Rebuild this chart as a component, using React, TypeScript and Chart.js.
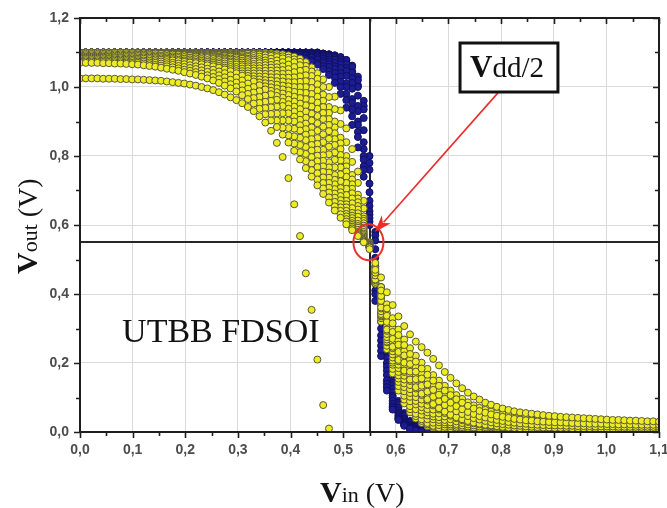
import React, { useEffect, useRef } from "react";
import { Chart, registerables } from "chart.js";
Chart.register(...registerables);

// Input voltage grid (V)
const vin = [
  0, 0.011, 0.022, 0.033, 0.044, 0.055, 0.066, 0.077, 0.088, 0.099,
  0.11, 0.121, 0.132, 0.143, 0.154, 0.165, 0.176, 0.187, 0.198, 0.209,
  0.22, 0.231, 0.242, 0.253, 0.264, 0.275, 0.286, 0.297, 0.308, 0.319,
  0.33, 0.341, 0.352, 0.363, 0.374, 0.385, 0.396, 0.407, 0.418, 0.429,
  0.44, 0.451, 0.462, 0.473, 0.484, 0.495, 0.506, 0.517, 0.528, 0.539,
  0.55, 0.561, 0.572, 0.583, 0.594, 0.605, 0.616, 0.627, 0.638, 0.649,
  0.66, 0.671, 0.682, 0.693, 0.704, 0.715, 0.726, 0.737, 0.748, 0.759,
  0.77, 0.781, 0.792, 0.803, 0.814, 0.825, 0.836, 0.847, 0.858, 0.869,
  0.88, 0.891, 0.902, 0.913, 0.924, 0.935, 0.946, 0.957, 0.968, 0.979,
  0.99, 1.001, 1.012, 1.023, 1.034, 1.045, 1.056, 1.067, 1.078, 1.089,
  1.1,
];

// ---- Yellow curves (Vout, V) ----
const yellowS = [
  1.025, 1.025, 1.025, 1.025, 1.024, 1.024, 1.024, 1.023, 1.023, 1.022,
  1.022, 1.021, 1.02, 1.019, 1.018, 1.016, 1.014, 1.012, 1.01, 1.007,
  1.004, 1.0, 0.996, 0.991, 0.985, 0.978, 0.97, 0.962, 0.953, 0.942,
  0.93, 0.915, 0.897, 0.873, 0.838, 0.797, 0.736, 0.66, 0.568, 0.46,
  0.354, 0.21, 0.078, 0.01,
];
const yellow1 = [
  1.07, 1.07, 1.07, 1.07, 1.069, 1.069, 1.068, 1.068, 1.067, 1.066,
  1.065, 1.063, 1.061, 1.059, 1.056, 1.053, 1.05, 1.047, 1.043, 1.039,
  1.035, 1.03, 1.025, 1.019, 1.012, 1.004, 0.996, 0.987, 0.976, 0.965,
  0.952, 0.937, 0.921, 0.903, 0.884, 0.862, 0.839, 0.815, 0.79, 0.765,
  0.74, 0.715, 0.69, 0.665, 0.642, 0.621, 0.602, 0.585, 0.568, 0.55,
  0.53, 0.49, 0.448, 0.405, 0.368, 0.335, 0.307, 0.283, 0.262, 0.246,
  0.23, 0.212, 0.193, 0.174, 0.157, 0.141, 0.127, 0.114, 0.103, 0.094,
  0.085, 0.079, 0.073, 0.068, 0.064, 0.06, 0.057, 0.055, 0.053, 0.051,
  0.049, 0.047, 0.046, 0.044, 0.043, 0.042, 0.041, 0.04, 0.039, 0.038,
  0.037, 0.036, 0.035, 0.035, 0.034, 0.033, 0.033, 0.032, 0.031, 0.031,
  0.03,
];
const yellow1b = [
  1.074, 1.074, 1.074, 1.074, 1.073, 1.073, 1.072, 1.072, 1.071, 1.07,
  1.07, 1.068, 1.066, 1.064, 1.062, 1.06, 1.057, 1.054, 1.05, 1.047,
  1.043, 1.039, 1.034, 1.029, 1.023, 1.016, 1.008, 1.0, 0.99, 0.98,
  0.968, 0.954, 0.939, 0.922, 0.903, 0.882, 0.86, 0.836, 0.811, 0.785,
  0.759, 0.732, 0.706, 0.68, 0.654, 0.631, 0.61, 0.59, 0.571, 0.552,
  0.535, 0.47, 0.41, 0.358, 0.315, 0.281, 0.252, 0.226, 0.204, 0.184,
  0.166, 0.149, 0.134, 0.12, 0.107, 0.095, 0.085, 0.076, 0.068, 0.061,
  0.056, 0.051, 0.047, 0.044, 0.041, 0.038, 0.036, 0.034, 0.033, 0.031,
  0.03, 0.029, 0.028, 0.028, 0.027, 0.026, 0.025, 0.025, 0.024, 0.024,
  0.024, 0.023, 0.023, 0.022, 0.022, 0.022, 0.021, 0.021, 0.021, 0.021,
  0.021,
];
const yellow2 = [
  1.078, 1.078, 1.078, 1.078, 1.077, 1.077, 1.076, 1.076, 1.075, 1.075,
  1.074, 1.073, 1.071, 1.07, 1.068, 1.066, 1.064, 1.061, 1.058, 1.055,
  1.052, 1.048, 1.044, 1.04, 1.034, 1.028, 1.021, 1.013, 1.005, 0.995,
  0.984, 0.971, 0.957, 0.941, 0.923, 0.903, 0.881, 0.857, 0.832, 0.806,
  0.778, 0.75, 0.722, 0.694, 0.667, 0.641, 0.617, 0.595, 0.574, 0.555,
  0.535, 0.475, 0.42, 0.37, 0.33, 0.297, 0.268, 0.243, 0.221, 0.201,
  0.183, 0.165, 0.149, 0.134, 0.12, 0.107, 0.096, 0.086, 0.077, 0.07,
  0.064, 0.059, 0.055, 0.051, 0.048, 0.045, 0.043, 0.041, 0.039, 0.037,
  0.036, 0.035, 0.034, 0.033, 0.032, 0.031, 0.03, 0.03, 0.029, 0.028,
  0.028, 0.027, 0.027, 0.026, 0.026, 0.025, 0.025, 0.025, 0.024, 0.024,
  0.024,
];
const yellow2b = [
  1.082, 1.082, 1.082, 1.082, 1.081, 1.081, 1.08, 1.08, 1.079, 1.079,
  1.078, 1.077, 1.076, 1.075, 1.074, 1.072, 1.07, 1.068, 1.066, 1.063,
  1.06, 1.057, 1.053, 1.05, 1.045, 1.04, 1.034, 1.027, 1.019, 1.01,
  1.0, 0.988, 0.975, 0.96, 0.943, 0.924, 0.903, 0.879, 0.853, 0.826,
  0.797, 0.768, 0.738, 0.708, 0.679, 0.651, 0.625, 0.6, 0.577, 0.557,
  0.537, 0.462, 0.394, 0.337, 0.29, 0.253, 0.222, 0.197, 0.175, 0.155,
  0.138, 0.122, 0.108, 0.096, 0.085, 0.075, 0.066, 0.058, 0.052, 0.046,
  0.042, 0.038, 0.035, 0.032, 0.029, 0.027, 0.025, 0.024, 0.022, 0.021,
  0.02, 0.02, 0.019, 0.019, 0.018, 0.018, 0.017, 0.017, 0.017, 0.016,
  0.016, 0.016, 0.016, 0.015, 0.015, 0.015, 0.015, 0.015, 0.015, 0.015,
  0.015,
];
const yellow3 = [
  1.085, 1.085, 1.085, 1.085, 1.085, 1.084, 1.084, 1.084, 1.083, 1.083,
  1.082, 1.082, 1.081, 1.08, 1.079, 1.078, 1.077, 1.075, 1.073, 1.071,
  1.069, 1.066, 1.063, 1.06, 1.056, 1.051, 1.046, 1.04, 1.033, 1.025,
  1.016, 1.005, 0.993, 0.979, 0.963, 0.945, 0.924, 0.9, 0.874, 0.846,
  0.816, 0.785, 0.754, 0.722, 0.691, 0.661, 0.632, 0.605, 0.58, 0.56,
  0.535, 0.465, 0.4, 0.345, 0.3, 0.265, 0.235, 0.21, 0.188, 0.168,
  0.15, 0.134, 0.119, 0.106, 0.094, 0.083, 0.074, 0.066, 0.059, 0.053,
  0.048, 0.044, 0.04, 0.037, 0.034, 0.032, 0.03, 0.028, 0.027, 0.026,
  0.025, 0.024, 0.023, 0.023, 0.022, 0.022, 0.021, 0.021, 0.02, 0.02,
  0.02, 0.019, 0.019, 0.019, 0.019, 0.018, 0.018, 0.018, 0.018, 0.018,
  0.018,
];
const yellow3b = [
  1.088, 1.088, 1.088, 1.088, 1.088, 1.088, 1.087, 1.087, 1.087, 1.087,
  1.086, 1.086, 1.085, 1.084, 1.083, 1.082, 1.081, 1.079, 1.077, 1.075,
  1.073, 1.071, 1.068, 1.065, 1.061, 1.056, 1.052, 1.046, 1.039, 1.032,
  1.023, 1.013, 1.002, 0.989, 0.974, 0.957, 0.937, 0.914, 0.889, 0.862,
  0.832, 0.801, 0.77, 0.737, 0.704, 0.672, 0.641, 0.612, 0.586, 0.563,
  0.54, 0.454, 0.38, 0.319, 0.27, 0.232, 0.201, 0.175, 0.153, 0.134,
  0.117, 0.102, 0.089, 0.078, 0.068, 0.06, 0.052, 0.046, 0.04, 0.036,
  0.032, 0.028, 0.025, 0.023, 0.021, 0.019, 0.018, 0.016, 0.015, 0.014,
  0.013, 0.013, 0.012, 0.012, 0.012, 0.011, 0.011, 0.011, 0.011, 0.011,
  0.01, 0.01, 0.01, 0.01, 0.01, 0.01, 0.01, 0.01, 0.01, 0.01,
  0.01,
];
const yellow4 = [
  1.092, 1.092, 1.092, 1.092, 1.092, 1.092, 1.091, 1.091, 1.091, 1.091,
  1.09, 1.09, 1.089, 1.088, 1.087, 1.086, 1.085, 1.084, 1.082, 1.08,
  1.078, 1.076, 1.073, 1.07, 1.067, 1.062, 1.058, 1.052, 1.046, 1.039,
  1.031, 1.022, 1.011, 0.999, 0.985, 0.969, 0.95, 0.929, 0.905, 0.878,
  0.849, 0.818, 0.786, 0.752, 0.718, 0.684, 0.651, 0.62, 0.592, 0.567,
  0.54, 0.458, 0.388, 0.328, 0.279, 0.24, 0.21, 0.184, 0.162, 0.142,
  0.125, 0.11, 0.097, 0.085, 0.075, 0.066, 0.058, 0.051, 0.045, 0.04,
  0.036, 0.032, 0.029, 0.026, 0.024, 0.022, 0.02, 0.019, 0.018, 0.017,
  0.016, 0.015, 0.015, 0.014, 0.014, 0.014, 0.013, 0.013, 0.013, 0.013,
  0.012, 0.012, 0.012, 0.012, 0.012, 0.012, 0.012, 0.012, 0.012, 0.012,
  0.012,
];
const yellow4b = [
  1.096, 1.096, 1.096, 1.096, 1.096, 1.096, 1.095, 1.095, 1.095, 1.095,
  1.094, 1.094, 1.093, 1.092, 1.091, 1.09, 1.089, 1.088, 1.087, 1.085,
  1.083, 1.081, 1.078, 1.075, 1.072, 1.068, 1.064, 1.058, 1.053, 1.046,
  1.039, 1.03, 1.02, 1.009, 0.996, 0.981, 0.963, 0.943, 0.92, 0.894,
  0.866, 0.835, 0.802, 0.767, 0.731, 0.695, 0.66, 0.627, 0.597, 0.571,
  0.54, 0.442, 0.361, 0.297, 0.247, 0.209, 0.178, 0.152, 0.13, 0.111,
  0.095, 0.081, 0.069, 0.059, 0.05, 0.043, 0.037, 0.032, 0.027, 0.024,
  0.021, 0.019, 0.017, 0.015, 0.013, 0.012, 0.011, 0.01, 0.01, 0.009,
  0.009, 0.008, 0.008, 0.008, 0.008, 0.007, 0.007, 0.007, 0.007, 0.007,
  0.007, 0.007, 0.007, 0.007, 0.007, 0.007, 0.007, 0.007, 0.007, 0.007,
  0.007,
];
const yellow5 = [
  1.1, 1.1, 1.1, 1.1, 1.1, 1.1, 1.099, 1.099, 1.099, 1.099,
  1.098, 1.098, 1.097, 1.097, 1.096, 1.095, 1.094, 1.093, 1.092, 1.09,
  1.088, 1.086, 1.084, 1.081, 1.078, 1.074, 1.07, 1.065, 1.06, 1.054,
  1.047, 1.039, 1.03, 1.019, 1.007, 0.993, 0.977, 0.958, 0.936, 0.911,
  0.883, 0.852, 0.818, 0.782, 0.745, 0.707, 0.67, 0.635, 0.603, 0.575,
  0.54, 0.45, 0.372, 0.31, 0.262, 0.224, 0.193, 0.167, 0.145, 0.126,
  0.109, 0.095, 0.082, 0.071, 0.062, 0.054, 0.047, 0.041, 0.036, 0.032,
  0.028, 0.025, 0.022, 0.02, 0.018, 0.016, 0.015, 0.014, 0.013, 0.012,
  0.011, 0.011, 0.01, 0.01, 0.01, 0.009, 0.009, 0.009, 0.009, 0.009,
  0.008, 0.008, 0.008, 0.008, 0.008, 0.008, 0.008, 0.008, 0.008, 0.008,
  0.008,
];
const yellow5b = [
  1.1, 1.1, 1.1, 1.1, 1.1, 1.1, 1.1, 1.099, 1.099, 1.099,
  1.099, 1.098, 1.098, 1.097, 1.097, 1.096, 1.095, 1.094, 1.093, 1.092,
  1.09, 1.089, 1.087, 1.084, 1.081, 1.078, 1.074, 1.07, 1.065, 1.06,
  1.054, 1.046, 1.038, 1.028, 1.017, 1.004, 0.99, 0.972, 0.952, 0.929,
  0.903, 0.873, 0.84, 0.805, 0.767, 0.727, 0.687, 0.649, 0.613, 0.58,
  0.54, 0.445, 0.365, 0.301, 0.252, 0.214, 0.183, 0.157, 0.135, 0.116,
  0.1, 0.086, 0.073, 0.063, 0.054, 0.047, 0.04, 0.035, 0.03, 0.027,
  0.024, 0.021, 0.019, 0.017, 0.015, 0.014, 0.013, 0.012, 0.011, 0.01,
  0.01, 0.009, 0.009, 0.009, 0.008, 0.008, 0.008, 0.008, 0.007, 0.007,
  0.007, 0.007, 0.007, 0.007, 0.007, 0.007, 0.007, 0.007, 0.007, 0.007,
  0.007,
];
const yellow6 = [
  1.1, 1.1, 1.1, 1.1, 1.1, 1.1, 1.1, 1.1, 1.099, 1.099,
  1.099, 1.099, 1.098, 1.098, 1.097, 1.097, 1.096, 1.096, 1.095, 1.094,
  1.093, 1.091, 1.09, 1.088, 1.085, 1.082, 1.079, 1.075, 1.071, 1.066,
  1.061, 1.054, 1.047, 1.038, 1.028, 1.016, 1.002, 0.986, 0.968, 0.947,
  0.923, 0.895, 0.863, 0.827, 0.789, 0.747, 0.705, 0.663, 0.624, 0.586,
  0.54, 0.44, 0.358, 0.293, 0.243, 0.205, 0.174, 0.148, 0.126, 0.107,
  0.091, 0.077, 0.065, 0.055, 0.047, 0.04, 0.034, 0.029, 0.025, 0.022,
  0.019, 0.017, 0.015, 0.013, 0.012, 0.011, 0.01, 0.009, 0.009, 0.008,
  0.008, 0.008, 0.007, 0.007, 0.007, 0.007, 0.007, 0.006, 0.006, 0.006,
  0.006, 0.006, 0.006, 0.006, 0.006, 0.006, 0.006, 0.006, 0.006, 0.006,
  0.006,
];
const yellow6b = [
  1.1, 1.1, 1.1, 1.1, 1.1, 1.1, 1.1, 1.1, 1.1, 1.099,
  1.099, 1.099, 1.099, 1.098, 1.098, 1.098, 1.097, 1.097, 1.096, 1.096,
  1.095, 1.094, 1.092, 1.091, 1.088, 1.086, 1.083, 1.08, 1.076, 1.072,
  1.067, 1.061, 1.055, 1.047, 1.038, 1.027, 1.014, 1.0, 0.984, 0.965,
  0.943, 0.916, 0.885, 0.85, 0.81, 0.767, 0.722, 0.677, 0.634, 0.592,
  0.54, 0.435, 0.35, 0.284, 0.234, 0.195, 0.163, 0.136, 0.113, 0.094,
  0.078, 0.065, 0.054, 0.045, 0.037, 0.031, 0.026, 0.022, 0.019, 0.016,
  0.014, 0.013, 0.011, 0.01, 0.009, 0.008, 0.008, 0.007, 0.007, 0.006,
  0.005, 0.005, 0.005, 0.005, 0.005, 0.005, 0.005, 0.005, 0.005, 0.005,
  0.005, 0.005, 0.005, 0.005, 0.005, 0.005, 0.005, 0.005, 0.005, 0.005,
  0.005,
];
const yellow7 = [
  1.1, 1.1, 1.1, 1.1, 1.1, 1.1, 1.1, 1.1, 1.1, 1.1,
  1.1, 1.1, 1.099, 1.099, 1.099, 1.099, 1.098, 1.098, 1.098, 1.097,
  1.097, 1.096, 1.095, 1.094, 1.092, 1.09, 1.088, 1.085, 1.082, 1.078,
  1.074, 1.069, 1.063, 1.056, 1.048, 1.038, 1.027, 1.014, 1.0, 0.983,
  0.962, 0.937, 0.907, 0.872, 0.832, 0.787, 0.74, 0.692, 0.645, 0.598,
  0.54, 0.43, 0.342, 0.275, 0.225, 0.185, 0.152, 0.124, 0.101, 0.082,
  0.066, 0.053, 0.043, 0.035, 0.028, 0.023, 0.019, 0.016, 0.013, 0.011,
  0.01, 0.009, 0.008, 0.007, 0.006, 0.006, 0.005, 0.005, 0.005, 0.005,
  0.004, 0.004, 0.004, 0.004, 0.004, 0.004, 0.004, 0.004, 0.004, 0.004,
  0.004, 0.004, 0.004, 0.004, 0.004, 0.004, 0.004, 0.004, 0.004, 0.004,
  0.004,
];
const yellow7b = [
  1.1, 1.1, 1.1, 1.1, 1.1, 1.1, 1.1, 1.1, 1.1, 1.1,
  1.1, 1.1, 1.1, 1.1, 1.099, 1.099, 1.099, 1.098, 1.098, 1.098,
  1.098, 1.097, 1.096, 1.095, 1.094, 1.092, 1.09, 1.088, 1.085, 1.082,
  1.079, 1.075, 1.07, 1.064, 1.057, 1.049, 1.039, 1.028, 1.015, 1.0,
  0.98, 0.955, 0.925, 0.89, 0.849, 0.803, 0.755, 0.705, 0.655, 0.605,
  0.542, 0.432, 0.338, 0.268, 0.216, 0.174, 0.141, 0.113, 0.09, 0.072,
  0.057, 0.045, 0.035, 0.028, 0.022, 0.018, 0.014, 0.012, 0.01, 0.008,
  0.007, 0.006, 0.005, 0.005, 0.004, 0.004, 0.004, 0.003, 0.003, 0.003,
  0.003, 0.003, 0.003, 0.003, 0.003, 0.003, 0.003, 0.003, 0.003, 0.003,
  0.003, 0.003, 0.003, 0.003, 0.003, 0.003, 0.003, 0.003, 0.003, 0.003,
  0.003,
];
const yellow8 = [
  1.1, 1.1, 1.1, 1.1, 1.1, 1.1, 1.1, 1.1, 1.1, 1.1,
  1.1, 1.1, 1.1, 1.1, 1.1, 1.1, 1.099, 1.099, 1.099, 1.099,
  1.099, 1.098, 1.097, 1.096, 1.095, 1.094, 1.093, 1.091, 1.089, 1.087,
  1.084, 1.081, 1.077, 1.073, 1.067, 1.06, 1.052, 1.043, 1.031, 1.017,
  0.997, 0.972, 0.942, 0.907, 0.866, 0.82, 0.77, 0.718, 0.666, 0.612,
  0.543, 0.435, 0.335, 0.262, 0.207, 0.164, 0.13, 0.102, 0.08, 0.062,
  0.048, 0.037, 0.028, 0.022, 0.017, 0.013, 0.01, 0.008, 0.006, 0.005,
  0.004, 0.004, 0.003, 0.003, 0.003, 0.002, 0.002, 0.002, 0.002, 0.002,
  0.002, 0.002, 0.002, 0.002, 0.002, 0.002, 0.002, 0.002, 0.002, 0.002,
  0.002, 0.002, 0.002, 0.002, 0.002, 0.002, 0.002, 0.002, 0.002, 0.002,
  0.002,
];
const yellow8b = [
  1.1, 1.1, 1.1, 1.1, 1.1, 1.1, 1.1, 1.1, 1.1, 1.1,
  1.1, 1.1, 1.1, 1.1, 1.1, 1.1, 1.1, 1.1, 1.099, 1.099,
  1.099, 1.099, 1.098, 1.097, 1.097, 1.096, 1.095, 1.094, 1.093, 1.091,
  1.09, 1.088, 1.085, 1.082, 1.077, 1.072, 1.065, 1.058, 1.047, 1.034,
  1.015, 0.99, 0.96, 0.925, 0.883, 0.837, 0.785, 0.732, 0.677, 0.618,
  0.544, 0.438, 0.338, 0.261, 0.201, 0.155, 0.118, 0.089, 0.066, 0.05,
  0.037, 0.027, 0.02, 0.015, 0.011, 0.008, 0.006, 0.004, 0.003, 0.002,
  0.002, 0.002, 0.001, 0.001, 0.001, 0.001, 0.001, 0.001, 0.001, 0.001,
  0.001, 0.001, 0.001, 0.001, 0.001, 0.001, 0.001, 0.001, 0.001, 0.001,
  0.001, 0.001, 0.001, 0.001, 0.001, 0.001, 0.001, 0.001, 0.001, 0.001,
  0.001,
];
const yellow9 = [
  1.1, 1.1, 1.1, 1.1, 1.1, 1.1, 1.1, 1.1, 1.1, 1.1,
  1.1, 1.1, 1.1, 1.1, 1.1, 1.1, 1.1, 1.1, 1.1, 1.1,
  1.1, 1.1, 1.099, 1.099, 1.099, 1.098, 1.098, 1.097, 1.096, 1.096,
  1.095, 1.094, 1.092, 1.09, 1.087, 1.083, 1.078, 1.072, 1.063, 1.05,
  1.032, 1.008, 0.978, 0.942, 0.9, 0.853, 0.8, 0.745, 0.688, 0.625,
  0.545, 0.44, 0.34, 0.26, 0.195, 0.145, 0.105, 0.075, 0.053, 0.037,
  0.026, 0.018, 0.012, 0.008, 0.005, 0.003, 0.002, 0.001, 0, 0,
  0, 0, 0, 0, 0, 0, 0, 0, 0, 0,
  0, 0, 0, 0, 0, 0, 0, 0, 0, 0,
  0, 0, 0, 0, 0, 0, 0, 0, 0, 0,
  0,
];
const yellow9b = [
  1.1, 1.1, 1.1, 1.1, 1.1, 1.1, 1.1, 1.1, 1.1, 1.1,
  1.1, 1.1, 1.1, 1.1, 1.1, 1.1, 1.1, 1.1, 1.1, 1.1,
  1.1, 1.1, 1.099, 1.099, 1.099, 1.099, 1.099, 1.098, 1.098, 1.098,
  1.097, 1.096, 1.095, 1.094, 1.092, 1.089, 1.085, 1.08, 1.073, 1.061,
  1.045, 1.024, 1.0, 0.971, 0.936, 0.893, 0.84, 0.783, 0.722, 0.648,
  0.548, 0.435, 0.33, 0.25, 0.183, 0.133, 0.094, 0.066, 0.046, 0.032,
  0.022, 0.015, 0.01, 0.006, 0.004, 0.002, 0.001, 0.001, 0, 0,
  0, 0, 0, 0, 0, 0, 0, 0, 0, 0,
  0, 0, 0, 0, 0, 0, 0, 0, 0, 0,
  0, 0, 0, 0, 0, 0, 0, 0, 0, 0,
  0,
];
const yellow10 = [
  1.1, 1.1, 1.1, 1.1, 1.1, 1.1, 1.1, 1.1, 1.1, 1.1,
  1.1, 1.1, 1.1, 1.1, 1.1, 1.1, 1.1, 1.1, 1.1, 1.1,
  1.1, 1.1, 1.1, 1.1, 1.1, 1.1, 1.1, 1.1, 1.1, 1.1,
  1.1, 1.099, 1.099, 1.098, 1.097, 1.095, 1.092, 1.088, 1.082, 1.072,
  1.057, 1.04, 1.022, 1.0, 0.972, 0.932, 0.88, 0.82, 0.755, 0.67,
  0.55, 0.43, 0.32, 0.24, 0.17, 0.12, 0.083, 0.057, 0.039, 0.026,
  0.017, 0.011, 0.007, 0.004, 0.002, 0.001, 0, 0, 0, 0,
  0, 0, 0, 0, 0, 0, 0, 0, 0, 0,
  0, 0, 0, 0, 0, 0, 0, 0, 0, 0,
  0, 0, 0, 0, 0, 0, 0, 0, 0, 0,
  0,
];

// ---- Blue curves (Vout, V) ----
const blue1 = [
  1.1, 1.1, 1.1, 1.1, 1.1, 1.1, 1.1, 1.1, 1.1, 1.1,
  1.1, 1.1, 1.1, 1.1, 1.1, 1.1, 1.1, 1.1, 1.1, 1.1,
  1.1, 1.1, 1.1, 1.1, 1.1, 1.1, 1.1, 1.1, 1.1, 1.1,
  1.1, 1.1, 1.099, 1.098, 1.097, 1.095, 1.093, 1.09, 1.086, 1.081,
  1.074, 1.065, 1.052, 1.035, 1.012, 0.98, 0.94, 0.89, 0.825, 0.74,
  0.6, 0.38, 0.22, 0.12, 0.065, 0.035, 0.018, 0.009, 0.004, 0.002,
  0.001, 0, 0, 0, 0, 0, 0, 0, 0, 0,
  0, 0, 0, 0, 0, 0, 0, 0, 0, 0,
  0, 0, 0, 0, 0, 0, 0, 0, 0, 0,
  0, 0, 0, 0, 0, 0, 0, 0, 0, 0,
  0,
];
const blue2 = [
  1.1, 1.1, 1.1, 1.1, 1.1, 1.1, 1.1, 1.1, 1.1, 1.1,
  1.1, 1.1, 1.1, 1.1, 1.1, 1.1, 1.1, 1.1, 1.1, 1.1,
  1.1, 1.1, 1.1, 1.1, 1.1, 1.1, 1.1, 1.1, 1.1, 1.1,
  1.1, 1.1, 1.1, 1.099, 1.098, 1.096, 1.094, 1.092, 1.088, 1.084,
  1.078, 1.07, 1.06, 1.046, 1.028, 1.0, 0.962, 0.915, 0.855, 0.76,
  0.61, 0.4, 0.235, 0.13, 0.07, 0.038, 0.02, 0.01, 0.005, 0.002,
  0.001, 0, 0, 0, 0, 0, 0, 0, 0, 0,
  0, 0, 0, 0, 0, 0, 0, 0, 0, 0,
  0, 0, 0, 0, 0, 0, 0, 0, 0, 0,
  0, 0, 0, 0, 0, 0, 0, 0, 0, 0,
  0,
];
const blue3 = [
  1.1, 1.1, 1.1, 1.1, 1.1, 1.1, 1.1, 1.1, 1.1, 1.1,
  1.1, 1.1, 1.1, 1.1, 1.1, 1.1, 1.1, 1.1, 1.1, 1.1,
  1.1, 1.1, 1.1, 1.1, 1.1, 1.1, 1.1, 1.1, 1.1, 1.1,
  1.1, 1.1, 1.1, 1.1, 1.099, 1.098, 1.097, 1.095, 1.093, 1.09,
  1.085, 1.079, 1.07, 1.058, 1.04, 1.015, 0.98, 0.935, 0.87, 0.77,
  0.62, 0.41, 0.25, 0.14, 0.075, 0.04, 0.021, 0.011, 0.005, 0.002,
  0.001, 0, 0, 0, 0, 0, 0, 0, 0, 0,
  0, 0, 0, 0, 0, 0, 0, 0, 0, 0,
  0, 0, 0, 0, 0, 0, 0, 0, 0, 0,
  0, 0, 0, 0, 0, 0, 0, 0, 0, 0,
  0,
];
const blue4 = [
  1.1, 1.1, 1.1, 1.1, 1.1, 1.1, 1.1, 1.1, 1.1, 1.1,
  1.1, 1.1, 1.1, 1.1, 1.1, 1.1, 1.1, 1.1, 1.1, 1.1,
  1.1, 1.1, 1.1, 1.1, 1.1, 1.1, 1.1, 1.1, 1.1, 1.1,
  1.1, 1.1, 1.1, 1.1, 1.1, 1.099, 1.098, 1.097, 1.095, 1.092,
  1.088, 1.083, 1.076, 1.066, 1.052, 1.03, 1.0, 0.955, 0.89, 0.79,
  0.63, 0.43, 0.265, 0.15, 0.082, 0.044, 0.023, 0.012, 0.006, 0.003,
  0.001, 0, 0, 0, 0, 0, 0, 0, 0, 0,
  0, 0, 0, 0, 0, 0, 0, 0, 0, 0,
  0, 0, 0, 0, 0, 0, 0, 0, 0, 0,
  0, 0, 0, 0, 0, 0, 0, 0, 0, 0,
  0,
];
const blue5 = [
  1.1, 1.1, 1.1, 1.1, 1.1, 1.1, 1.1, 1.1, 1.1, 1.1,
  1.1, 1.1, 1.1, 1.1, 1.1, 1.1, 1.1, 1.1, 1.1, 1.1,
  1.1, 1.1, 1.1, 1.1, 1.1, 1.1, 1.1, 1.1, 1.1, 1.1,
  1.1, 1.1, 1.1, 1.1, 1.1, 1.1, 1.099, 1.098, 1.097, 1.095,
  1.092, 1.088, 1.082, 1.073, 1.06, 1.04, 1.01, 0.965, 0.9, 0.8,
  0.64, 0.44, 0.28, 0.165, 0.09, 0.048, 0.025, 0.013, 0.006, 0.003,
  0.001, 0, 0, 0, 0, 0, 0, 0, 0, 0,
  0, 0, 0, 0, 0, 0, 0, 0, 0, 0,
  0, 0, 0, 0, 0, 0, 0, 0, 0, 0,
  0, 0, 0, 0, 0, 0, 0, 0, 0, 0,
  0,
];
const blue6 = [
  1.1, 1.1, 1.1, 1.1, 1.1, 1.1, 1.1, 1.1, 1.1, 1.1,
  1.1, 1.1, 1.1, 1.1, 1.1, 1.1, 1.1, 1.1, 1.1, 1.1,
  1.1, 1.1, 1.1, 1.1, 1.1, 1.1, 1.1, 1.1, 1.1, 1.1,
  1.1, 1.1, 1.1, 1.1, 1.1, 1.1, 1.1, 1.099, 1.098, 1.097,
  1.095, 1.092, 1.087, 1.08, 1.07, 1.055, 1.032, 0.995, 0.93, 0.82,
  0.655, 0.46, 0.3, 0.178, 0.1, 0.053, 0.028, 0.015, 0.007, 0.003,
  0.002, 0.001, 0, 0, 0, 0, 0, 0, 0, 0,
  0, 0, 0, 0, 0, 0, 0, 0, 0, 0,
  0, 0, 0, 0, 0, 0, 0, 0, 0, 0,
  0, 0, 0, 0, 0, 0, 0, 0, 0, 0,
  0,
];
const blue7 = [
  1.1, 1.1, 1.1, 1.1, 1.1, 1.1, 1.1, 1.1, 1.1, 1.1,
  1.1, 1.1, 1.1, 1.1, 1.1, 1.1, 1.1, 1.1, 1.1, 1.1,
  1.1, 1.1, 1.1, 1.1, 1.1, 1.1, 1.1, 1.1, 1.1, 1.1,
  1.1, 1.1, 1.1, 1.1, 1.1, 1.1, 1.1, 1.1, 1.099, 1.098,
  1.097, 1.095, 1.092, 1.087, 1.079, 1.066, 1.047, 1.012, 0.945, 0.84,
  0.67, 0.48, 0.32, 0.19, 0.105, 0.057, 0.03, 0.016, 0.008, 0.004,
  0.002, 0.001, 0, 0, 0, 0, 0, 0, 0, 0,
  0, 0, 0, 0, 0, 0, 0, 0, 0, 0,
  0, 0, 0, 0, 0, 0, 0, 0, 0, 0,
  0, 0, 0, 0, 0, 0, 0, 0, 0, 0,
  0,
];
const blue7b = [
  1.1, 1.1, 1.1, 1.1, 1.1, 1.1, 1.1, 1.1, 1.1, 1.1,
  1.1, 1.1, 1.1, 1.1, 1.1, 1.1, 1.1, 1.1, 1.1, 1.1,
  1.1, 1.1, 1.1, 1.1, 1.1, 1.1, 1.1, 1.1, 1.1, 1.1,
  1.1, 1.1, 1.1, 1.1, 1.1, 1.1, 1.1, 1.1, 1.1, 1.099,
  1.098, 1.097, 1.094, 1.09, 1.084, 1.073, 1.055, 1.025, 0.975, 0.875,
  0.695, 0.505, 0.345, 0.2, 0.115, 0.063, 0.034, 0.018, 0.009, 0.005,
  0.002, 0.001, 0, 0, 0, 0, 0, 0, 0, 0,
  0, 0, 0, 0, 0, 0, 0, 0, 0, 0,
  0, 0, 0, 0, 0, 0, 0, 0, 0, 0,
  0, 0, 0, 0, 0, 0, 0, 0, 0, 0,
  0,
];
const blue8 = [
  1.1, 1.1, 1.1, 1.1, 1.1, 1.1, 1.1, 1.1, 1.1, 1.1,
  1.1, 1.1, 1.1, 1.1, 1.1, 1.1, 1.1, 1.1, 1.1, 1.1,
  1.1, 1.1, 1.1, 1.1, 1.1, 1.1, 1.1, 1.1, 1.1, 1.1,
  1.1, 1.1, 1.1, 1.1, 1.1, 1.1, 1.1, 1.1, 1.1, 1.1,
  1.099, 1.098, 1.096, 1.093, 1.088, 1.08, 1.066, 1.042, 1.0, 0.91,
  0.72, 0.53, 0.37, 0.215, 0.125, 0.07, 0.038, 0.02, 0.011, 0.006,
  0.003, 0.001, 0, 0, 0, 0, 0, 0, 0, 0,
  0, 0, 0, 0, 0, 0, 0, 0, 0, 0,
  0, 0, 0, 0, 0, 0, 0, 0, 0, 0,
  0, 0, 0, 0, 0, 0, 0, 0, 0, 0,
  0,
];
const blue9 = [
  1.1, 1.1, 1.1, 1.1, 1.1, 1.1, 1.1, 1.1, 1.1, 1.1,
  1.1, 1.1, 1.1, 1.1, 1.1, 1.1, 1.1, 1.1, 1.1, 1.1,
  1.1, 1.1, 1.1, 1.1, 1.1, 1.1, 1.1, 1.1, 1.1, 1.1,
  1.1, 1.1, 1.1, 1.1, 1.1, 1.1, 1.1, 1.1, 1.1, 1.1,
  1.1, 1.099, 1.097, 1.095, 1.092, 1.087, 1.078, 1.058, 1.02, 0.935,
  0.76, 0.555, 0.395, 0.23, 0.135, 0.08, 0.046, 0.026, 0.015, 0.008,
  0.004, 0.002, 0.001, 0, 0, 0, 0, 0, 0, 0,
  0, 0, 0, 0, 0, 0, 0, 0, 0, 0,
  0, 0, 0, 0, 0, 0, 0, 0, 0, 0,
  0, 0, 0, 0, 0, 0, 0, 0, 0, 0,
  0,
];
const blue9b = [
  1.1, 1.1, 1.1, 1.1, 1.1, 1.1, 1.1, 1.1, 1.1, 1.1,
  1.1, 1.1, 1.1, 1.1, 1.1, 1.1, 1.1, 1.1, 1.1, 1.1,
  1.1, 1.1, 1.1, 1.1, 1.1, 1.1, 1.1, 1.1, 1.1, 1.1,
  1.1, 1.1, 1.1, 1.1, 1.1, 1.1, 1.1, 1.1, 1.1, 1.1,
  1.1, 1.1, 1.096, 1.094, 1.09, 1.083, 1.07, 1.045, 1.005, 0.945,
  0.78, 0.57, 0.41, 0.235, 0.142, 0.085, 0.05, 0.029, 0.017, 0.01,
  0.005, 0.002, 0.001, 0, 0, 0, 0, 0, 0, 0,
  0, 0, 0, 0, 0, 0, 0, 0, 0, 0,
  0, 0, 0, 0, 0, 0, 0, 0, 0, 0,
  0, 0, 0, 0, 0, 0, 0, 0, 0, 0,
  0,
];
const blue10 = [
  1.1, 1.1, 1.1, 1.1, 1.1, 1.1, 1.1, 1.1, 1.1, 1.1,
  1.1, 1.1, 1.1, 1.1, 1.1, 1.1, 1.1, 1.1, 1.1, 1.1,
  1.1, 1.1, 1.1, 1.1, 1.1, 1.1, 1.1, 1.1, 1.1, 1.1,
  1.1, 1.1, 1.1, 1.1, 1.1, 1.1, 1.1, 1.1, 1.1, 1.1,
  1.1, 1.1, 1.097, 1.094, 1.091, 1.086, 1.078, 1.062, 1.03, 0.96,
  0.8, 0.58, 0.42, 0.24, 0.15, 0.09, 0.055, 0.032, 0.02, 0.011,
  0.006, 0.003, 0.001, 0, 0, 0, 0, 0, 0, 0,
  0, 0, 0, 0, 0, 0, 0, 0, 0, 0,
  0, 0, 0, 0, 0, 0, 0, 0, 0, 0,
  0, 0, 0, 0, 0, 0, 0, 0, 0, 0,
  0,
];

const yellowCurves = [
  yellowS, yellow1, yellow1b, yellow2, yellow2b, yellow3, yellow3b, yellow4, yellow4b,
  yellow5, yellow5b, yellow6, yellow6b, yellow7, yellow7b, yellow8, yellow8b,
  yellow9, yellow9b, yellow10,
];
const blueCurves = [blue1, blue2, blue3, blue4, blue5, blue6, blue7, blue7b, blue8, blue9, blue9b, blue10];

const xTickValues = [0, 0.1, 0.2, 0.3, 0.4, 0.5, 0.6, 0.7, 0.8, 0.9, 1.0, 1.1];
const yTickValues = [0, 0.2, 0.4, 0.6, 0.8, 1.0, 1.2];
const xMinorValues = [0.05, 0.15, 0.25, 0.35, 0.45, 0.55, 0.65, 0.75, 0.85, 0.95, 1.05];
const yMinorValues = [0.1, 0.3, 0.5, 0.7, 0.9, 1.1];

const crossVin = 0.55;
const crossVout = 0.55;

const SERIF = '"Liberation Serif", "Times New Roman", serif';
const SANS = '"Liberation Sans", Arial, sans-serif';

function fmt(v: number) {
  return v.toFixed(1).replace(".", ",");
}

type Part = { text: string; font: string };
function drawRich(ctx: CanvasRenderingContext2D, parts: Part[], x: number, y: number) {
  let cx = x;
  for (const p of parts) {
    ctx.font = p.font;
    ctx.fillText(p.text, cx, y);
    cx += ctx.measureText(p.text).width;
  }
}

const decorPlugin = {
  id: "decor",
  beforeDatasetsDraw(chart: any) {
    const { ctx, chartArea: a, scales } = chart;
    const xs = scales.x, ys = scales.y;
    ctx.save();
    ctx.strokeStyle = "#262626";
    ctx.lineWidth = 2;
    const vx = Math.round(xs.getPixelForValue(crossVin));
    const hy = Math.round(ys.getPixelForValue(crossVout));
    ctx.beginPath();
    ctx.moveTo(vx, a.top);
    ctx.lineTo(vx, a.bottom);
    ctx.moveTo(a.left, hy);
    ctx.lineTo(a.right, hy);
    ctx.stroke();
    ctx.restore();
  },
  afterDatasetsDraw(chart: any) {
    const { ctx, chartArea: a, scales } = chart;
    const xs = scales.x, ys = scales.y;
    ctx.save();
    // frame
    ctx.strokeStyle = "#1e1e1e";
    ctx.lineWidth = 2;
    ctx.strokeRect(a.left, a.top, a.right - a.left, a.bottom - a.top);
    // ticks
    ctx.lineWidth = 1.6;
    ctx.beginPath();
    const tick = (vals: number[], len: number) => {
      for (const v of vals) {
        const px = Math.round(xs.getPixelForValue(v)) + 0.5;
        ctx.moveTo(px, a.bottom);
        ctx.lineTo(px, a.bottom + len);
        ctx.moveTo(px, a.top);
        ctx.lineTo(px, a.top + len);
      }
    };
    const ticky = (vals: number[], len: number) => {
      for (const v of vals) {
        const py = Math.round(ys.getPixelForValue(v)) + 0.5;
        ctx.moveTo(a.left, py);
        ctx.lineTo(a.left - len, py);
        ctx.moveTo(a.right, py);
        ctx.lineTo(a.right - len, py);
      }
    };
    tick(xTickValues, 6);
    tick(xMinorValues, 4);
    ticky(yTickValues, 6);
    ticky(yMinorValues, 4);
    ctx.stroke();

    // red circle
    const cx = xs.getPixelForValue(0.548);
    const cy = ys.getPixelForValue(0.55);
    ctx.strokeStyle = "#e8332a";
    ctx.lineWidth = 2;
    ctx.beginPath();
    ctx.ellipse(cx, cy, 15, 18, 0, 0, Math.PI * 2);
    ctx.stroke();

    // arrow
    const sx = xs.getPixelForValue(0.794), sy = ys.getPixelForValue(0.983);
    const tx = xs.getPixelForValue(0.5604), ty = ys.getPixelForValue(0.58);
    const dx = tx - sx, dy = ty - sy;
    const L = Math.hypot(dx, dy);
    const ux = dx / L, uy = dy / L;
    const headLen = 17, headW = 6;
    const bx = tx - ux * headLen, by = ty - uy * headLen;
    ctx.strokeStyle = "#ee2a2a";
    ctx.fillStyle = "#ee2a2a";
    ctx.lineWidth = 1.6;
    ctx.beginPath();
    ctx.moveTo(sx, sy);
    ctx.lineTo(bx + ux * 4, by + uy * 4);
    ctx.stroke();
    ctx.beginPath();
    ctx.moveTo(tx, ty);
    ctx.lineTo(bx - uy * headW, by + ux * headW);
    ctx.lineTo(bx + ux * 5, by + uy * 5);
    ctx.lineTo(bx + uy * headW, by - ux * headW);
    ctx.closePath();
    ctx.fill();

    // Vdd/2 box
    const bl = xs.getPixelForValue(0.722), br = xs.getPixelForValue(0.908);
    const bt = ys.getPixelForValue(1.1275), bb = ys.getPixelForValue(0.9855);
    ctx.fillStyle = "#ffffff";
    ctx.fillRect(bl, bt, br - bl, bb - bt);
    ctx.strokeStyle = "#111";
    ctx.lineWidth = 3;
    ctx.strokeRect(bl, bt, br - bl, bb - bt);
    ctx.fillStyle = "#111";
    ctx.textAlign = "left";
    ctx.textBaseline = "alphabetic";
    drawRich(ctx, [
      { text: "V", font: `bold 31px ${SERIF}` },
      { text: "dd/2", font: `29px ${SERIF}` },
    ], bl + 10, bt + 34);

    // UTBB FDSOI
    ctx.fillStyle = "#111";
    ctx.font = `34px ${SERIF}`;
    ctx.fillText("UTBB FDSOI", xs.getPixelForValue(0.08), ys.getPixelForValue(0.26));
    ctx.restore();
  },
  afterDraw(chart: any) {
    const { ctx, chartArea: a } = chart;
    ctx.save();
    ctx.fillStyle = "#141414";
    ctx.textAlign = "left";
    ctx.textBaseline = "alphabetic";
    const parts = (sub: string): Part[] => [
      { text: "V", font: `bold 30px ${SERIF}` },
      { text: sub, font: `22px ${SERIF}` },
      { text: " (V)", font: `28px ${SERIF}` },
    ];
    drawRich(ctx, parts("in"), a.left + 240, 502);
    ctx.translate(37, 274);
    ctx.rotate(-Math.PI / 2);
    drawRich(ctx, parts("out"), 0, 0);
    ctx.restore();
  },
};

export default function App() {
  const ref = useRef<HTMLCanvasElement | null>(null);
  useEffect(() => {
    if (!ref.current) return;
    const mk = (ys: number[]) => ys.map((y, i) => ({ x: vin[i], y }));
    const datasets: any[] = [];
    yellowCurves.forEach((c, k) =>
      datasets.push({
        label: "yellow" + k,
        data: mk(c),
        order: 0,
        backgroundColor: "#eeec22",
        borderColor: "#58583a",
        pointRadius: 3.5,
        pointBorderWidth: 1,
        pointHoverRadius: 3.5,
        showLine: false,
      })
    );
    blueCurves.forEach((c, k) =>
      datasets.push({
        label: "blue" + k,
        data: mk(c),
        order: 1,
        backgroundColor: "#1c1c94",
        borderColor: "#10105e",
        pointRadius: 3.5,
        pointBorderWidth: 1,
        pointHoverRadius: 3.5,
        showLine: false,
      })
    );
    const tickFont = { family: SANS, size: 14, weight: "bold" as const };
    const chart = new Chart(ref.current, {
      type: "scatter",
      data: { datasets },
      plugins: [decorPlugin],
      options: {
        responsive: false,
        animation: false,
        devicePixelRatio: 1,
        layout: { padding: { left: 0, top: 18, right: 8, bottom: 0 } },
        plugins: { legend: { display: false }, tooltip: { enabled: false } },
        scales: {
          x: {
            type: "linear",
            min: 0,
            max: 1.1,
            afterBuildTicks: (s: any) => {
              s.ticks = xTickValues.map((v) => ({ value: v }));
            },
            afterFit: (s: any) => {
              s.height = 76;
              s.paddingLeft = 0;
              s.paddingRight = 0;
            },
            ticks: {
              callback: (v: any) => fmt(Number(v)),
              font: tickFont,
              color: "#4c4c4c",
              padding: 10,
              maxRotation: 0,
              autoSkip: false,
            },
            grid: { color: "#dadada", lineWidth: 1, drawTicks: false },
            border: { display: false },
          },
          y: {
            type: "linear",
            min: 0,
            max: 1.2,
            afterBuildTicks: (s: any) => {
              s.ticks = yTickValues.map((v) => ({ value: v }));
            },
            afterFit: (s: any) => {
              s.width = 80;
              s.paddingTop = 0;
              s.paddingBottom = 0;
            },
            ticks: {
              callback: (v: any) => fmt(Number(v)),
              font: tickFont,
              color: "#4c4c4c",
              padding: 11,
              autoSkip: false,
            },
            grid: { color: "#dadada", lineWidth: 1, drawTicks: false },
            border: { display: false },
          },
        },
      },
    });
    return () => chart.destroy();
  }, []);
  return (
    <div style={{ position: "absolute", left: 0, top: 0, width: 667, height: 508, background: "#fff" }}>
      <canvas ref={ref} width={667} height={508} style={{ width: 667, height: 508, display: "block" }} />
    </div>
  );
}
